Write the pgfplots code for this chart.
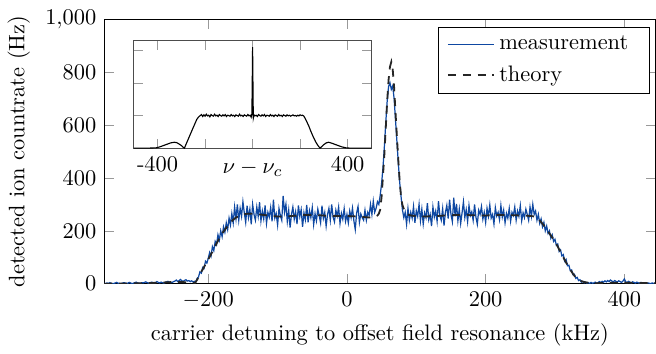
\documentclass[border=0pt]{standalone}
\usepackage{pgfplots}
\pgfplotsset{compat=1.18}
\definecolor{measblue}{RGB}{14,72,162}
\begin{document}
\begin{tikzpicture}
\begin{axis}[name=main,
  scale only axis, width=246pt, height=118pt,
  xmin=-350, xmax=445, ymin=0, ymax=1000,
  xtick={-200,0,200,400}, ytick={0,200,400,600,800,1000},
  tick style={black!40},
  xlabel={carrier detuning to offset field resonance (kHz)},
  ylabel={detected ion countrate (Hz)},
  legend style={at={(0.99,0.972)}, anchor=north east, row sep=1.5pt, inner xsep=4pt},
  legend cell align=left,
  legend image code/.code={\draw[#1] (0cm,0cm) -- (0.72cm,0cm);},
]
\addplot[color=measblue, draw=measblue, line width=0.55pt] coordinates {
(-350,2)(-348,0)(-346,3)(-344,1)(-342,4)(-340,2)(-338,0)(-336,1)(-334,3)(-332,5)
(-330,2)(-328,1)(-326,0)(-324,2)(-322,4)(-320,3)(-318,1)(-316,2)(-314,5)(-312,3)
(-310,0)(-308,2)(-306,4)(-304,6)(-302,3)(-300,2)(-298,1)(-296,4)(-294,3)(-292,5)
(-290,7)(-288,4)(-286,2)(-284,3)(-282,6)(-280,5)(-278,3)(-276,4)(-274,8)(-272,5)
(-270,3)(-268,6)(-266,4)(-264,2)(-262,5)(-260,7)(-258,9)(-256,6)(-254,4)(-252,5)
(-250,8)
(-248,10)(-246,14)(-244,8)(-242,12)(-240,16)(-238,11)(-236,9)(-234,13)(-232,15)(-230,10)(-228,12)(-226,8)(-224,11)(-222,7)(-220,9)
(-218,8)(-216,20)(-214,26)(-212,45)(-210,40)(-208,62)(-206,58)(-204,85)(-202,78)(-200,96)
(-198,118)(-196,104)(-194,140)(-192,125)(-190,160)(-188,148)(-186,185)(-184,165)(-182,200)(-180,178)
(-178,215)(-176,195)(-174,230)(-172,205)(-170,248)(-168,222)(-166,265)(-164,230)(-162,290)(-160,245)
(-158,300)(-156,240)(-154,285)(-152,255)(-150,310)
(-148,268)(-146,232)(-144,295)(-142,250)(-140,282)(-138,225)(-136,300)(-134,262)(-132,240)(-130,290)
(-128,255)(-126,308)(-124,238)(-122,275)(-120,245)(-118,296)(-116,228)(-114,270)(-112,252)(-110,288)
(-108,236)(-106,318)(-104,248)(-102,265)(-100,222)(-98,285)(-96,258)(-94,240)(-92,332)(-90,270)
(-88,300)(-86,235)(-84,278)(-82,212)(-80,262)(-78,290)(-76,244)(-74,272)(-72,226)(-70,296)
(-68,254)(-66,280)(-64,215)(-62,268)(-60,242)(-58,298)(-56,232)(-54,276)(-52,250)(-50,288)
(-48,224)(-46,265)(-44,238)(-42,282)(-40,258)(-38,230)(-36,295)(-34,247)(-32,270)(-30,218)
(-28,262)(-26,285)(-24,240)(-22,300)(-20,252)(-18,234)(-16,278)(-14,256)(-12,290)(-10,228)
(-8,266)(-6,244)(-4,284)(-2,236)(0,262)(2,230)(4,275)(6,250)(8,286)(10,238)
(12,205)(14,268)(16,292)(18,232)(20,264)(22,250)(24,240)(26,278)(28,240)(30,270)
(32,258)(34,300)(36,262)(38,312)(40,270)
(42,285)(44,310)(46,300)(48,335)(50,380)(52,440)(54,520)(56,610)(58,690)(60,745)
(62,760)(64,735)(66,748)(68,700)(70,620)(72,540)(74,460)(76,385)(78,330)(80,280)
(82,250)(84,270)(86,225)(88,285)(90,240)
(92,270)(94,248)(96,292)(98,230)(100,276)(102,255)(104,300)(106,238)(108,282)(110,226)
(112,268)(114,250)(116,305)(118,242)(120,262)(122,218)(124,290)(126,252)(128,275)(130,236)
(132,312)(134,258)(136,240)(138,284)(140,220)(142,270)(144,296)(146,246)(148,318)(150,262)
(152,235)(154,325)(156,255)(158,302)(160,238)(162,282)(164,228)(166,268)(168,310)(170,250)
(172,280)(174,235)(176,296)(178,258)(180,272)(182,240)(184,300)(186,252)(188,225)(190,278)
(192,262)(194,292)(196,244)(198,270)(200,232)(202,285)(204,255)(206,298)(208,248)(210,262)
(212,226)(214,288)(216,256)(218,270)(220,242)(222,296)(224,252)(226,278)(228,230)(230,266)
(232,248)(234,285)(236,236)(238,270)(240,258)(242,290)(244,240)(246,275)(248,255)(250,295)
(252,238)(254,268)(256,250)(258,282)(260,262)(262,240)(264,290)(266,255)(268,300)(270,262)
(272,275)(274,240)(276,262)(278,228)(280,245)(282,215)(284,232)(286,200)(288,218)(290,190)
(292,200)(294,172)(296,185)(298,160)(300,168)(302,145)(304,150)(306,122)(308,128)(310,105)
(312,110)(314,85)(316,92)(318,68)(320,70)(322,50)(324,52)(326,34)(328,36)(330,20)
(332,24)(334,12)(336,15)(338,6)(340,9)
(342,3)(344,6)(346,2)(348,4)(350,1)(352,5)(354,2)(356,3)(358,6)(360,2)
(362,4)(364,8)(366,5)(368,9)(370,6)(372,11)(374,7)(376,12)(378,8)(380,14)
(382,10)(384,7)(386,12)(388,9)(390,6)(392,11)(394,8)(396,5)(398,10)(400,18)
(402,7)(404,4)(406,9)(408,6)(410,3)(412,7)(414,5)(416,2)(418,6)(420,4)
(422,1)(424,5)(426,3)(428,2)(430,4)(432,1)(434,3)(436,2)(438,0)(440,3)
(442,1)(444,2)
};
\addlegendentry{measurement\hspace*{3.5pt}}
\addplot[color=black!85, draw=black!85, dash pattern=on 3.6pt off 3pt, line width=0.8pt] coordinates {
(-350,0)(-320,1)(-290,2)(-270,4)(-255,6)(-245,7)(-235,6)(-225,4)(-219,3)(-216,15)(-212,37)(-208,54)(-204,73)(-200,92)(-196,111)(-192,132)(-188,152)(-184,172)(-180,190)(-176,204)(-172,218)(-168,231)(-164,242)(-160,250)(-156,256)(-152,260)(-146,264)(-140,265)(-130,263)(-120,260)(-110,257)(-100,254)(-90,254)(-80,256)(-70,258)(-60,260)(-50,260)(-40,259)(-30,257)(-20,256)(-10,256)(0,256)(10,255)(20,253)(30,251)(36,250)(40,252)(44,258)(46,265)(48,280)(50,330)(52,410)(54,490)(56,590)(58,690)(60,770)(62,820)(64,839)(66,810)(68,743)(70,650)(72,560)(74,470)(76,390)(78,330)(80,298)(83,276)(86,266)(90,259)(100,255)(110,254)(120,255)(130,256)(140,258)(150,259)(160,260)(170,260)(180,259)(190,258)(200,258)(210,259)(220,260)(230,260)(240,259)(250,258)(260,257)(266,256)(272,253)(276,245)(280,233)(284,220)(288,205)(292,190)(296,175)(300,160)(304,140)(308,120)(312,100)(316,80)(320,62)(324,45)(328,30)(332,19)(336,12)(340,8)(345,5)(350,3)(360,2)(375,3)(390,4)(405,4)(420,3)(445,2)
};
\addlegendentry{theory}
\end{axis}
\path (main.north west) ++(0,8.6pt) coordinate (topmark);
\begin{axis}[
  at={(main.north west)}, anchor=north west, xshift=13.2pt, yshift=-9.5pt,
  scale only axis, width=106pt, height=48pt,
  xmin=-500, xmax=500, ymin=0, ymax=3.3,
  xtick={-400,-200,0,200,400}, xticklabels={{\textrm{-}400},,,,400},
  ytick={1,2,3}, yticklabels={},
  tick style={black!40},
  axis line style={black!70},
  axis background/.style={fill=white},
  xlabel={$\nu-\nu_c$},
  xlabel style={at={(axis description cs:0.5,0)}, anchor=north, yshift=-2pt},
]
\addplot[black, line width=0.5pt] coordinates {
(-500,0)(-480,0)(-460,0)(-440,0)(-420,0.005)(-405,0.01)(-390,0.04)(-375,0.08)(-360,0.12)(-345,0.16)(-330,0.18)(-320,0.17)(-310,0.13)(-300,0.08)(-293,0.03)(-287,0)(-280,0.12)(-270,0.29)(-260,0.46)(-250,0.63)(-241,0.78)(-235,0.88)(-228,0.95)(-222,0.99)
(-220,1.00)(-215,1.03)(-210,0.97)(-205,1.02)(-200,0.98)(-195,1.04)(-190,0.99)(-185,1.01)(-180,0.96)(-175,1.03)(-170,1.00)(-165,0.98)(-160,1.04)(-155,0.99)(-150,1.01)(-145,0.97)(-140,1.03)(-135,1.00)(-130,0.98)(-125,1.02)(-120,0.99)(-115,1.03)(-110,0.97)(-105,1.01)(-100,1.00)(-95,0.98)(-90,1.03)(-85,0.99)(-80,1.01)(-75,0.97)(-70,1.02)(-65,1.00)(-60,0.98)(-55,1.04)(-50,0.99)(-45,1.01)(-40,0.97)(-35,1.02)(-30,1.00)(-25,0.98)(-20,1.03)(-15,0.99)(-10,1.01)(-6,0.95)(-3,1.05)(-1.5,2.0)(0,3.1)(1.5,2.0)(3,0.92)(6,1.02)(10,0.99)(15,1.01)(20,0.97)(25,1.03)(30,1.00)(35,0.98)(40,1.02)(45,0.99)(50,1.03)(55,0.97)(60,1.01)(65,1.00)(70,0.98)(75,1.03)(80,0.99)(85,1.01)(90,0.97)(95,1.02)(100,1.00)(105,0.98)(110,1.03)(115,0.99)(120,1.01)(125,0.97)(130,1.02)(135,1.00)(140,0.98)(145,1.02)(150,0.99)(155,1.01)(160,0.98)(165,1.00)(170,1.02)(175,0.99)(180,1.00)(185,0.98)(190,1.01)(195,0.99)(200,1.02)(205,1.00)(210,1.01)(216,0.98)
(222,0.9)(230,0.78)(237,0.67)(245,0.52)(255,0.35)(265,0.2)(275,0.08)(284,0)(290,0.04)(300,0.11)(310,0.16)(319,0.18)(330,0.16)(345,0.12)(360,0.08)(375,0.04)(392,0.01)(410,0)(440,0)(470,0)(500,0)
};
\end{axis}
\end{tikzpicture}
\end{document}
